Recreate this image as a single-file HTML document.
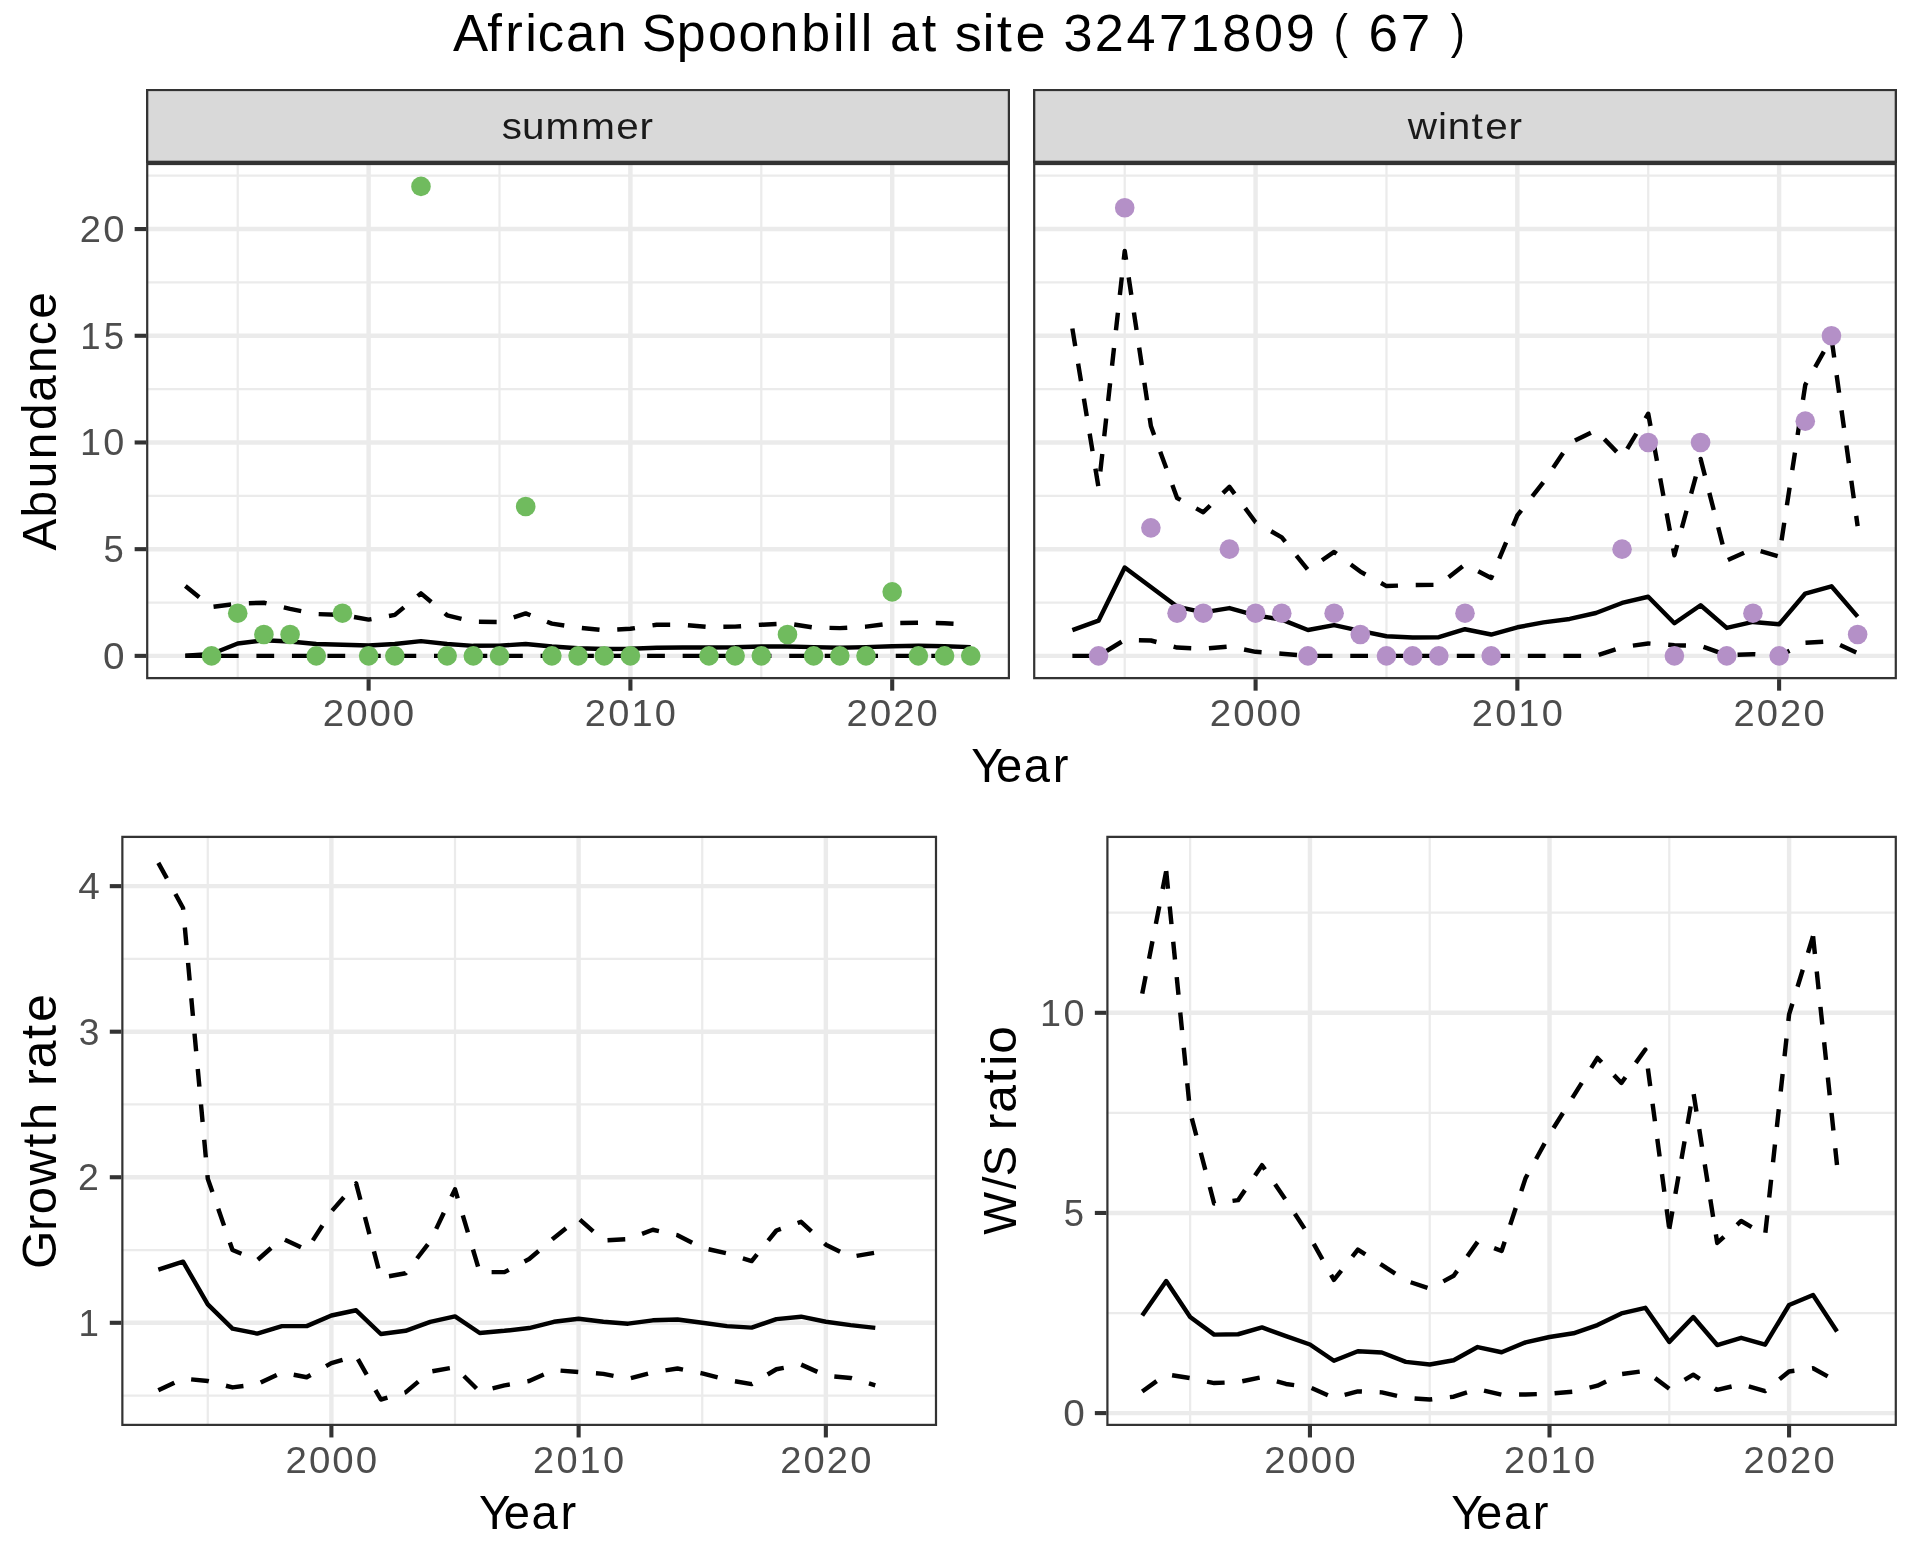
<!DOCTYPE html>
<html><head><meta charset="utf-8"><title>African Spoonbill at site 32471809</title>
<style>
html,body{margin:0;padding:0;background:#fff;}
body{width:1920px;height:1560px;overflow:hidden;}
svg{display:block;font-family:"Liberation Sans",sans-serif;will-change:transform;}
</style></head><body>
<svg width="1920" height="1560" viewBox="0 0 1920 1560">
<rect width="1920" height="1560" fill="#fff"/>
<text transform="translate(0,51) scale(1.0287,1)" x="440.32 473.73 491.06 510.55 522.77 550.15 580.49" font-size="51.26" fill="#000">African</text>
<text transform="translate(0,51) scale(1.0125,1)" x="633.95 668.45 699.25 729.46 760.08 791.43 822.66 836.36 850.08" font-size="51.26" fill="#000">Spoonbill</text>
<text transform="translate(0,51) scale(0.9787,1)" x="909.40 941.78" font-size="53.26" fill="#000">at</text>
<text transform="translate(0,51) scale(1.0586,1)" x="901.94 928.10 941.66 959.39" font-size="51.26" fill="#000">site</text>
<text transform="translate(0,51) scale(1.0026,1)" x="1060.83 1091.91 1123.64 1155.90 1187.09 1218.98 1250.73 1282.54" font-size="52.05" fill="#000">32471809</text>
<text transform="translate(0,48) scale(0.8911,1)" x="1496.66" font-size="47.72" fill="#000">(</text>
<text transform="translate(0,51) scale(1.0184,1)" x="1343.77 1375.54" font-size="52.05" fill="#000">67</text>
<text transform="translate(0,48) scale(0.8911,1)" x="1627.97" font-size="47.72" fill="#000">)</text>
<clipPath id="c1"><rect x="146.10" y="162.90" width="863.90" height="516.30"/></clipPath>
<g clip-path="url(#c1)">
<rect x="146.10" y="162.90" width="863.90" height="516.30" fill="#fff"/>
<line x1="146.10" x2="1010.00" y1="602.52" y2="602.52" stroke="#EBEBEB" stroke-width="2.22"/>
<line x1="146.10" x2="1010.00" y1="495.82" y2="495.82" stroke="#EBEBEB" stroke-width="2.22"/>
<line x1="146.10" x2="1010.00" y1="389.12" y2="389.12" stroke="#EBEBEB" stroke-width="2.22"/>
<line x1="146.10" x2="1010.00" y1="282.42" y2="282.42" stroke="#EBEBEB" stroke-width="2.22"/>
<line x1="146.10" x2="1010.00" y1="175.72" y2="175.72" stroke="#EBEBEB" stroke-width="2.22"/>
<line y1="162.90" y2="679.20" x1="237.73" x2="237.73" stroke="#EBEBEB" stroke-width="2.22"/>
<line y1="162.90" y2="679.20" x1="499.51" x2="499.51" stroke="#EBEBEB" stroke-width="2.22"/>
<line y1="162.90" y2="679.20" x1="761.30" x2="761.30" stroke="#EBEBEB" stroke-width="2.22"/>
<line x1="146.10" x2="1010.00" y1="655.87" y2="655.87" stroke="#EBEBEB" stroke-width="4.44"/>
<line x1="146.10" x2="1010.00" y1="549.17" y2="549.17" stroke="#EBEBEB" stroke-width="4.44"/>
<line x1="146.10" x2="1010.00" y1="442.47" y2="442.47" stroke="#EBEBEB" stroke-width="4.44"/>
<line x1="146.10" x2="1010.00" y1="335.77" y2="335.77" stroke="#EBEBEB" stroke-width="4.44"/>
<line x1="146.10" x2="1010.00" y1="229.07" y2="229.07" stroke="#EBEBEB" stroke-width="4.44"/>
<line y1="162.90" y2="679.20" x1="368.62" x2="368.62" stroke="#EBEBEB" stroke-width="4.44"/>
<line y1="162.90" y2="679.20" x1="630.41" x2="630.41" stroke="#EBEBEB" stroke-width="4.44"/>
<line y1="162.90" y2="679.20" x1="892.20" x2="892.20" stroke="#EBEBEB" stroke-width="4.44"/>
<polyline points="185.37,655.87 211.55,655.87 237.73,655.87 263.90,655.87 290.08,655.87 316.26,655.87 342.44,655.87 368.62,655.87 394.80,655.87 420.98,655.87 447.16,655.87 473.33,655.87 499.51,655.87 525.69,655.87 551.87,655.87 578.05,655.87 604.23,655.87 630.41,655.87 656.59,655.87 682.77,655.87 708.94,655.87 735.12,655.87 761.30,655.87 787.48,655.87 813.66,655.87 839.84,655.87 866.02,655.87 892.20,655.87 918.37,655.87 944.55,655.87 970.73,655.87" fill="none" stroke="#000" stroke-width="4.44" stroke-linejoin="round" stroke-dasharray="17.76 17.76"/>
<polyline points="185.37,586.09 211.55,607.00 237.73,603.59 263.90,602.73 290.08,608.92 316.26,614.04 342.44,614.90 368.62,619.59 394.80,614.90 420.98,593.34 447.16,615.32 473.33,621.73 499.51,621.94 525.69,613.40 551.87,623.65 578.05,627.70 604.23,630.26 630.41,628.77 656.59,624.71 682.77,624.71 708.94,627.06 735.12,626.63 761.30,624.71 787.48,623.43 813.66,627.49 839.84,628.13 866.02,626.63 892.20,623.22 918.37,622.79 944.55,623.22 970.73,624.71" fill="none" stroke="#000" stroke-width="4.44" stroke-linejoin="round" stroke-dasharray="17.76 17.76"/>
<polyline points="185.37,655.66 211.55,653.95 237.73,643.49 263.90,640.29 290.08,641.57 316.26,643.92 342.44,644.77 368.62,645.41 394.80,643.92 420.98,641.15 447.16,643.92 473.33,645.84 499.51,645.63 525.69,644.03 551.87,646.48 578.05,648.19 604.23,649.04 630.41,648.83 656.59,647.76 682.77,647.55 708.94,647.55 735.12,647.33 761.30,646.48 787.48,646.48 813.66,647.12 839.84,647.76 866.02,647.12 892.20,646.27 918.37,645.84 944.55,646.27 970.73,647.12" fill="none" stroke="#000" stroke-width="4.44" stroke-linejoin="round"/>
<circle cx="211.55" cy="655.87" r="9.8" fill="#70BB5E"/>
<circle cx="237.73" cy="613.19" r="9.8" fill="#70BB5E"/>
<circle cx="263.90" cy="634.53" r="9.8" fill="#70BB5E"/>
<circle cx="290.08" cy="634.53" r="9.8" fill="#70BB5E"/>
<circle cx="316.26" cy="655.87" r="9.8" fill="#70BB5E"/>
<circle cx="342.44" cy="613.19" r="9.8" fill="#70BB5E"/>
<circle cx="368.62" cy="655.87" r="9.8" fill="#70BB5E"/>
<circle cx="394.80" cy="655.87" r="9.8" fill="#70BB5E"/>
<circle cx="420.98" cy="186.39" r="9.8" fill="#70BB5E"/>
<circle cx="447.16" cy="655.87" r="9.8" fill="#70BB5E"/>
<circle cx="473.33" cy="655.87" r="9.8" fill="#70BB5E"/>
<circle cx="499.51" cy="655.87" r="9.8" fill="#70BB5E"/>
<circle cx="525.69" cy="506.49" r="9.8" fill="#70BB5E"/>
<circle cx="551.87" cy="655.87" r="9.8" fill="#70BB5E"/>
<circle cx="578.05" cy="655.87" r="9.8" fill="#70BB5E"/>
<circle cx="604.23" cy="655.87" r="9.8" fill="#70BB5E"/>
<circle cx="630.41" cy="655.87" r="9.8" fill="#70BB5E"/>
<circle cx="708.94" cy="655.87" r="9.8" fill="#70BB5E"/>
<circle cx="735.12" cy="655.87" r="9.8" fill="#70BB5E"/>
<circle cx="761.30" cy="655.87" r="9.8" fill="#70BB5E"/>
<circle cx="787.48" cy="634.53" r="9.8" fill="#70BB5E"/>
<circle cx="813.66" cy="655.87" r="9.8" fill="#70BB5E"/>
<circle cx="839.84" cy="655.87" r="9.8" fill="#70BB5E"/>
<circle cx="866.02" cy="655.87" r="9.8" fill="#70BB5E"/>
<circle cx="892.20" cy="591.85" r="9.8" fill="#70BB5E"/>
<circle cx="918.37" cy="655.87" r="9.8" fill="#70BB5E"/>
<circle cx="944.55" cy="655.87" r="9.8" fill="#70BB5E"/>
<circle cx="970.73" cy="655.87" r="9.8" fill="#70BB5E"/>
<rect x="146.10" y="162.90" width="863.90" height="516.30" fill="none" stroke="#333333" stroke-width="4.44"/>
</g>
<line x1="368.62" x2="368.62" y1="679.20" y2="690.66" stroke="#333333" stroke-width="4.10"/>
<text transform="translate(0,726) scale(1.0488,1)" x="307.82 330.15 352.37 374.59" font-size="36.64" fill="#4D4D4D">2000</text>
<line x1="630.41" x2="630.41" y1="679.20" y2="690.66" stroke="#333333" stroke-width="4.10"/>
<text transform="translate(0,726) scale(1.0352,1)" x="564.91 587.53 609.92 632.55" font-size="36.64" fill="#4D4D4D">2010</text>
<line x1="892.20" x2="892.20" y1="679.20" y2="690.66" stroke="#333333" stroke-width="4.10"/>
<text transform="translate(0,726) scale(1.0403,1)" x="813.73 836.24 858.53 881.04" font-size="36.64" fill="#4D4D4D">2020</text>
<line y1="655.87" y2="655.87" x1="134.64" x2="146.10" stroke="#333333" stroke-width="4.10"/>
<text transform="translate(0,669) scale(1.0571,1)" x="97.52" font-size="36.64" fill="#4D4D4D">0</text>
<line y1="549.17" y2="549.17" x1="134.64" x2="146.10" stroke="#333333" stroke-width="4.10"/>
<text transform="translate(0,562) scale(0.9928,1)" x="104.30" font-size="36.67" fill="#4D4D4D">5</text>
<line y1="442.47" y2="442.47" x1="134.64" x2="146.10" stroke="#333333" stroke-width="4.10"/>
<text transform="translate(0,455) scale(1.0300,1)" x="77.57 100.31" font-size="36.64" fill="#4D4D4D">10</text>
<line y1="335.77" y2="335.77" x1="134.64" x2="146.10" stroke="#333333" stroke-width="4.10"/>
<text transform="translate(0,349) scale(0.9962,1)" x="80.54 104.09" font-size="36.67" fill="#4D4D4D">15</text>
<line y1="229.07" y2="229.07" x1="134.64" x2="146.10" stroke="#333333" stroke-width="4.10"/>
<text transform="translate(0,242) scale(1.0403,1)" x="76.70 99.21" font-size="36.64" fill="#4D4D4D">20</text>
<clipPath id="c2"><rect x="146.10" y="88.90" width="863.90" height="74.00"/></clipPath>
<rect clip-path="url(#c2)" x="146.10" y="88.90" width="863.90" height="74.00" fill="#D9D9D9" stroke="#333333" stroke-width="4.44"/>
<text transform="translate(0,139) scale(1.1129,1)" x="450.84 469.00 490.25 522.31 553.79 574.65" font-size="36.35" fill="#1A1A1A">summer</text>
<clipPath id="c3"><rect x="1033.10" y="162.90" width="863.80" height="516.30"/></clipPath>
<g clip-path="url(#c3)">
<rect x="1033.10" y="162.90" width="863.80" height="516.30" fill="#fff"/>
<line x1="1033.10" x2="1896.90" y1="602.52" y2="602.52" stroke="#EBEBEB" stroke-width="2.22"/>
<line x1="1033.10" x2="1896.90" y1="495.82" y2="495.82" stroke="#EBEBEB" stroke-width="2.22"/>
<line x1="1033.10" x2="1896.90" y1="389.12" y2="389.12" stroke="#EBEBEB" stroke-width="2.22"/>
<line x1="1033.10" x2="1896.90" y1="282.42" y2="282.42" stroke="#EBEBEB" stroke-width="2.22"/>
<line x1="1033.10" x2="1896.90" y1="175.72" y2="175.72" stroke="#EBEBEB" stroke-width="2.22"/>
<line y1="162.90" y2="679.20" x1="1124.72" x2="1124.72" stroke="#EBEBEB" stroke-width="2.22"/>
<line y1="162.90" y2="679.20" x1="1386.47" x2="1386.47" stroke="#EBEBEB" stroke-width="2.22"/>
<line y1="162.90" y2="679.20" x1="1648.23" x2="1648.23" stroke="#EBEBEB" stroke-width="2.22"/>
<line x1="1033.10" x2="1896.90" y1="655.87" y2="655.87" stroke="#EBEBEB" stroke-width="4.44"/>
<line x1="1033.10" x2="1896.90" y1="549.17" y2="549.17" stroke="#EBEBEB" stroke-width="4.44"/>
<line x1="1033.10" x2="1896.90" y1="442.47" y2="442.47" stroke="#EBEBEB" stroke-width="4.44"/>
<line x1="1033.10" x2="1896.90" y1="335.77" y2="335.77" stroke="#EBEBEB" stroke-width="4.44"/>
<line x1="1033.10" x2="1896.90" y1="229.07" y2="229.07" stroke="#EBEBEB" stroke-width="4.44"/>
<line y1="162.90" y2="679.20" x1="1255.59" x2="1255.59" stroke="#EBEBEB" stroke-width="4.44"/>
<line y1="162.90" y2="679.20" x1="1517.35" x2="1517.35" stroke="#EBEBEB" stroke-width="4.44"/>
<line y1="162.90" y2="679.20" x1="1779.11" x2="1779.11" stroke="#EBEBEB" stroke-width="4.44"/>
<polyline points="1072.36,655.87 1098.54,655.87 1124.72,639.87 1150.89,640.51 1177.07,647.55 1203.24,648.83 1229.42,646.48 1255.59,651.82 1281.77,653.74 1307.95,655.87 1334.12,655.87 1360.30,655.87 1386.47,655.87 1412.65,655.87 1438.82,655.87 1465.00,655.87 1491.18,655.87 1517.35,655.87 1543.53,655.87 1569.70,655.87 1595.88,655.87 1622.05,647.12 1648.23,643.49 1674.41,645.20 1700.58,645.84 1726.76,655.23 1752.93,654.16 1779.11,655.87 1805.28,642.85 1831.46,641.15 1857.64,653.10" fill="none" stroke="#000" stroke-width="4.44" stroke-linejoin="round" stroke-dasharray="17.76 17.76"/>
<polyline points="1072.36,328.51 1098.54,487.71 1124.72,250.94 1150.89,426.04 1177.07,497.95 1203.24,512.25 1229.42,486.86 1255.59,522.28 1281.77,537.43 1307.95,569.87 1334.12,551.94 1360.30,571.58 1386.47,586.09 1412.65,585.02 1438.82,584.81 1465.00,564.53 1491.18,577.98 1517.35,515.45 1543.53,482.16 1569.70,443.11 1595.88,430.31 1622.05,457.41 1648.23,413.75 1674.41,555.27 1700.58,458.90 1726.76,560.48 1752.93,548.74 1779.11,556.43 1805.28,384.85 1831.46,337.90 1857.64,526.12" fill="none" stroke="#000" stroke-width="4.44" stroke-linejoin="round" stroke-dasharray="17.76 17.76"/>
<polyline points="1072.36,630.05 1098.54,620.66 1124.72,567.52 1150.89,586.94 1177.07,606.57 1203.24,612.34 1229.42,608.07 1255.59,615.32 1281.77,619.59 1307.95,630.05 1334.12,625.14 1360.30,630.90 1386.47,636.24 1412.65,637.52 1438.82,637.20 1465.00,629.20 1491.18,634.53 1517.35,627.27 1543.53,622.37 1569.70,618.95 1595.88,612.98 1622.05,602.95 1648.23,596.76 1674.41,623.22 1700.58,605.29 1726.76,627.91 1752.93,621.94 1779.11,624.29 1805.28,593.56 1831.46,586.30 1857.64,616.60" fill="none" stroke="#000" stroke-width="4.44" stroke-linejoin="round"/>
<circle cx="1098.54" cy="655.87" r="9.8" fill="#B490C7"/>
<circle cx="1124.72" cy="207.73" r="9.8" fill="#B490C7"/>
<circle cx="1150.89" cy="527.83" r="9.8" fill="#B490C7"/>
<circle cx="1177.07" cy="613.19" r="9.8" fill="#B490C7"/>
<circle cx="1203.24" cy="613.19" r="9.8" fill="#B490C7"/>
<circle cx="1229.42" cy="549.17" r="9.8" fill="#B490C7"/>
<circle cx="1255.59" cy="613.19" r="9.8" fill="#B490C7"/>
<circle cx="1281.77" cy="613.19" r="9.8" fill="#B490C7"/>
<circle cx="1307.95" cy="655.87" r="9.8" fill="#B490C7"/>
<circle cx="1334.12" cy="613.19" r="9.8" fill="#B490C7"/>
<circle cx="1360.30" cy="634.53" r="9.8" fill="#B490C7"/>
<circle cx="1386.47" cy="655.87" r="9.8" fill="#B490C7"/>
<circle cx="1412.65" cy="655.87" r="9.8" fill="#B490C7"/>
<circle cx="1438.82" cy="655.87" r="9.8" fill="#B490C7"/>
<circle cx="1465.00" cy="613.19" r="9.8" fill="#B490C7"/>
<circle cx="1491.18" cy="655.87" r="9.8" fill="#B490C7"/>
<circle cx="1622.05" cy="549.17" r="9.8" fill="#B490C7"/>
<circle cx="1648.23" cy="442.47" r="9.8" fill="#B490C7"/>
<circle cx="1674.41" cy="655.87" r="9.8" fill="#B490C7"/>
<circle cx="1700.58" cy="442.47" r="9.8" fill="#B490C7"/>
<circle cx="1726.76" cy="655.87" r="9.8" fill="#B490C7"/>
<circle cx="1752.93" cy="613.19" r="9.8" fill="#B490C7"/>
<circle cx="1779.11" cy="655.87" r="9.8" fill="#B490C7"/>
<circle cx="1805.28" cy="421.13" r="9.8" fill="#B490C7"/>
<circle cx="1831.46" cy="335.77" r="9.8" fill="#B490C7"/>
<circle cx="1857.64" cy="634.53" r="9.8" fill="#B490C7"/>
<rect x="1033.10" y="162.90" width="863.80" height="516.30" fill="none" stroke="#333333" stroke-width="4.44"/>
</g>
<line x1="1255.59" x2="1255.59" y1="679.20" y2="690.66" stroke="#333333" stroke-width="4.10"/>
<text transform="translate(0,726) scale(1.0488,1)" x="1153.51 1175.84 1198.06 1220.27" font-size="36.64" fill="#4D4D4D">2000</text>
<line x1="1517.35" x2="1517.35" y1="679.20" y2="690.66" stroke="#333333" stroke-width="4.10"/>
<text transform="translate(0,726) scale(1.0352,1)" x="1421.70 1444.33 1466.72 1489.35" font-size="36.64" fill="#4D4D4D">2010</text>
<line x1="1779.11" x2="1779.11" y1="679.20" y2="690.66" stroke="#333333" stroke-width="4.10"/>
<text transform="translate(0,726) scale(1.0403,1)" x="1666.29 1688.80 1711.09 1733.60" font-size="36.64" fill="#4D4D4D">2020</text>
<clipPath id="c4"><rect x="1033.10" y="88.90" width="863.80" height="74.00"/></clipPath>
<rect clip-path="url(#c4)" x="1033.10" y="88.90" width="863.80" height="74.00" fill="#D9D9D9" stroke="#333333" stroke-width="4.44"/>
<text transform="translate(0,139) scale(1.0997,1)" x="1280.10 1307.56 1316.47 1338.20 1350.62 1371.74" font-size="36.84" fill="#1A1A1A">winter</text>
<clipPath id="c5"><rect x="121.25" y="835.80" width="815.85" height="590.20"/></clipPath>
<g clip-path="url(#c5)">
<rect x="121.25" y="835.80" width="815.85" height="590.20" fill="#fff"/>
<line x1="121.25" x2="937.10" y1="1395.58" y2="1395.58" stroke="#EBEBEB" stroke-width="2.22"/>
<line x1="121.25" x2="937.10" y1="1250.03" y2="1250.03" stroke="#EBEBEB" stroke-width="2.22"/>
<line x1="121.25" x2="937.10" y1="1104.47" y2="1104.47" stroke="#EBEBEB" stroke-width="2.22"/>
<line x1="121.25" x2="937.10" y1="958.92" y2="958.92" stroke="#EBEBEB" stroke-width="2.22"/>
<line y1="835.80" y2="1426.00" x1="207.78" x2="207.78" stroke="#EBEBEB" stroke-width="2.22"/>
<line y1="835.80" y2="1426.00" x1="455.01" x2="455.01" stroke="#EBEBEB" stroke-width="2.22"/>
<line y1="835.80" y2="1426.00" x1="702.23" x2="702.23" stroke="#EBEBEB" stroke-width="2.22"/>
<line x1="121.25" x2="937.10" y1="1322.80" y2="1322.80" stroke="#EBEBEB" stroke-width="4.44"/>
<line x1="121.25" x2="937.10" y1="1177.25" y2="1177.25" stroke="#EBEBEB" stroke-width="4.44"/>
<line x1="121.25" x2="937.10" y1="1031.70" y2="1031.70" stroke="#EBEBEB" stroke-width="4.44"/>
<line x1="121.25" x2="937.10" y1="886.15" y2="886.15" stroke="#EBEBEB" stroke-width="4.44"/>
<line y1="835.80" y2="1426.00" x1="331.39" x2="331.39" stroke="#EBEBEB" stroke-width="4.44"/>
<line y1="835.80" y2="1426.00" x1="578.62" x2="578.62" stroke="#EBEBEB" stroke-width="4.44"/>
<line y1="835.80" y2="1426.00" x1="825.85" x2="825.85" stroke="#EBEBEB" stroke-width="4.44"/>
<polyline points="158.33,1390.34 183.06,1378.55 207.78,1381.02 232.50,1387.42 257.23,1384.22 281.95,1372.43 306.67,1377.24 331.39,1363.12 356.12,1355.99 380.84,1399.50 405.56,1392.37 430.28,1371.56 455.01,1367.19 479.73,1391.65 504.45,1385.39 529.17,1381.02 553.90,1370.10 578.62,1372.00 603.34,1373.89 628.07,1378.84 652.79,1372.29 677.51,1368.50 702.23,1373.31 726.96,1379.86 751.68,1384.08 776.40,1369.23 801.12,1364.57 825.85,1375.63 850.57,1377.96 875.29,1385.39" fill="none" stroke="#000" stroke-width="4.44" stroke-linejoin="round" stroke-dasharray="17.76 17.76"/>
<polyline points="158.33,862.86 183.06,907.98 207.78,1178.71 232.50,1250.03 257.23,1260.21 281.95,1238.38 306.67,1250.03 331.39,1211.45 356.12,1183.36 380.84,1277.68 405.56,1273.31 430.28,1241.29 455.01,1189.33 479.73,1272.15 504.45,1272.15 529.17,1259.05 553.90,1237.94 578.62,1218.44 603.34,1240.42 628.07,1239.11 652.79,1229.79 677.51,1235.18 702.23,1247.84 726.96,1253.37 751.68,1261.09 776.40,1230.52 801.12,1221.79 825.85,1244.64 850.57,1256.87 875.29,1252.64" fill="none" stroke="#000" stroke-width="4.44" stroke-linejoin="round" stroke-dasharray="17.76 17.76"/>
<polyline points="158.33,1269.53 183.06,1261.67 207.78,1304.46 232.50,1328.62 257.23,1333.57 281.95,1326.15 306.67,1326.15 331.39,1315.52 356.12,1310.28 380.84,1334.01 405.56,1330.81 430.28,1321.93 455.01,1316.40 479.73,1332.99 504.45,1330.81 529.17,1328.04 553.90,1321.78 578.62,1318.72 603.34,1321.78 628.07,1323.67 652.79,1320.33 677.51,1319.45 702.23,1322.80 726.96,1326.15 751.68,1327.60 776.40,1319.16 801.12,1316.69 825.85,1321.78 850.57,1325.13 875.29,1327.89" fill="none" stroke="#000" stroke-width="4.44" stroke-linejoin="round"/>
<rect x="121.25" y="835.80" width="815.85" height="590.20" fill="none" stroke="#333333" stroke-width="4.44"/>
</g>
<line x1="331.39" x2="331.39" y1="1426.00" y2="1437.46" stroke="#333333" stroke-width="4.10"/>
<text transform="translate(0,1473) scale(1.0488,1)" x="272.33 294.66 316.88 339.10" font-size="36.64" fill="#4D4D4D">2000</text>
<line x1="578.62" x2="578.62" y1="1426.00" y2="1437.46" stroke="#333333" stroke-width="4.10"/>
<text transform="translate(0,1473) scale(1.0352,1)" x="514.88 537.50 559.89 582.52" font-size="36.64" fill="#4D4D4D">2010</text>
<line x1="825.85" x2="825.85" y1="1426.00" y2="1437.46" stroke="#333333" stroke-width="4.10"/>
<text transform="translate(0,1473) scale(1.0403,1)" x="749.95 772.46 794.75 817.26" font-size="36.64" fill="#4D4D4D">2020</text>
<line y1="1322.80" y2="1322.80" x1="109.79" x2="121.25" stroke="#333333" stroke-width="4.10"/>
<text transform="translate(0,1336) scale(1.0000,1)" x="78.57" font-size="36.71" fill="#4D4D4D">1</text>
<line y1="1177.25" y2="1177.25" x1="109.79" x2="121.25" stroke="#333333" stroke-width="4.10"/>
<text transform="translate(0,1190) scale(1.0226,1)" x="76.30" font-size="36.68" fill="#4D4D4D">2</text>
<line y1="1031.70" y2="1031.70" x1="109.79" x2="121.25" stroke="#333333" stroke-width="4.10"/>
<text transform="translate(0,1045) scale(1.0144,1)" x="77.56" font-size="36.64" fill="#4D4D4D">3</text>
<line y1="886.15" y2="886.15" x1="109.79" x2="121.25" stroke="#333333" stroke-width="4.10"/>
<text transform="translate(0,899) scale(1.0541,1)" x="74.14" font-size="36.71" fill="#4D4D4D">4</text>
<clipPath id="c6"><rect x="1106.30" y="835.80" width="790.60" height="590.20"/></clipPath>
<g clip-path="url(#c6)">
<rect x="1106.30" y="835.80" width="790.60" height="590.20" fill="#fff"/>
<line x1="1106.30" x2="1896.90" y1="1313.02" y2="1313.02" stroke="#EBEBEB" stroke-width="2.22"/>
<line x1="1106.30" x2="1896.90" y1="1112.88" y2="1112.88" stroke="#EBEBEB" stroke-width="2.22"/>
<line x1="1106.30" x2="1896.90" y1="912.72" y2="912.72" stroke="#EBEBEB" stroke-width="2.22"/>
<line y1="835.80" y2="1426.00" x1="1190.15" x2="1190.15" stroke="#EBEBEB" stroke-width="2.22"/>
<line y1="835.80" y2="1426.00" x1="1429.73" x2="1429.73" stroke="#EBEBEB" stroke-width="2.22"/>
<line y1="835.80" y2="1426.00" x1="1669.30" x2="1669.30" stroke="#EBEBEB" stroke-width="2.22"/>
<line x1="1106.30" x2="1896.90" y1="1413.10" y2="1413.10" stroke="#EBEBEB" stroke-width="4.44"/>
<line x1="1106.30" x2="1896.90" y1="1212.95" y2="1212.95" stroke="#EBEBEB" stroke-width="4.44"/>
<line x1="1106.30" x2="1896.90" y1="1012.80" y2="1012.80" stroke="#EBEBEB" stroke-width="4.44"/>
<line y1="835.80" y2="1426.00" x1="1309.94" x2="1309.94" stroke="#EBEBEB" stroke-width="4.44"/>
<line y1="835.80" y2="1426.00" x1="1549.52" x2="1549.52" stroke="#EBEBEB" stroke-width="4.44"/>
<line y1="835.80" y2="1426.00" x1="1789.09" x2="1789.09" stroke="#EBEBEB" stroke-width="4.44"/>
<polyline points="1142.24,1391.56 1166.19,1374.27 1190.15,1378.07 1214.11,1383.08 1238.07,1382.08 1262.02,1377.19 1285.98,1383.96 1309.94,1387.36 1333.90,1397.89 1357.85,1391.36 1381.81,1392.40 1405.77,1397.89 1429.73,1399.57 1453.68,1396.69 1477.64,1389.08 1501.60,1394.69 1525.56,1394.53 1549.52,1393.69 1573.47,1391.56 1597.43,1385.64 1621.39,1374.03 1645.35,1370.87 1669.30,1388.80 1693.26,1374.67 1717.22,1389.88 1741.18,1384.28 1765.13,1391.08 1789.09,1371.47 1813.05,1368.27 1837.01,1381.48" fill="none" stroke="#000" stroke-width="4.44" stroke-linejoin="round" stroke-dasharray="17.76 17.76"/>
<polyline points="1142.24,993.59 1166.19,871.09" fill="none" stroke="#000" stroke-width="4.44" stroke-linejoin="round" stroke-dasharray="17.76 17.76"/>
<polyline points="1166.19,871.09 1190.15,1112.07 1214.11,1203.44 1238.07,1200.14 1262.02,1165.21 1285.98,1200.14 1309.94,1236.97 1333.90,1279.90 1357.85,1249.68 1381.81,1264.99 1405.77,1280.60 1429.73,1288.61 1453.68,1275.80 1477.64,1241.77 1501.60,1250.98 1525.56,1178.12 1549.52,1134.49 1573.47,1096.06 1597.43,1057.93 1621.39,1082.95 1645.35,1049.53 1669.30,1228.96" fill="none" stroke="#000" stroke-width="4.44" stroke-linejoin="round" stroke-dasharray="17.76 17.76"/>
<polyline points="1669.30,1228.96 1693.26,1091.56 1717.22,1242.97 1741.18,1220.96 1765.13,1234.97 1789.09,1014.40 1813.05,936.24" fill="none" stroke="#000" stroke-width="4.44" stroke-linejoin="round" stroke-dasharray="17.76 17.76"/>
<polyline points="1813.05,936.24 1837.01,1164.91" fill="none" stroke="#000" stroke-width="4.44" stroke-linejoin="round" stroke-dasharray="17.76 17.76"/>
<polyline points="1142.24,1315.43 1166.19,1281.00 1190.15,1317.03 1214.11,1334.64 1238.07,1334.24 1262.02,1327.44 1285.98,1336.04 1309.94,1344.49 1333.90,1360.74 1357.85,1351.25 1381.81,1352.49 1405.77,1361.86 1429.73,1364.54 1453.68,1360.26 1477.64,1347.05 1501.60,1352.25 1525.56,1342.37 1549.52,1337.04 1573.47,1333.28 1597.43,1325.03 1621.39,1313.43 1645.35,1307.82 1669.30,1341.85 1693.26,1317.03 1717.22,1345.05 1741.18,1337.84 1765.13,1344.65 1789.09,1305.02 1813.05,1295.01 1837.01,1331.44" fill="none" stroke="#000" stroke-width="4.44" stroke-linejoin="round"/>
<rect x="1106.30" y="835.80" width="790.60" height="590.20" fill="none" stroke="#333333" stroke-width="4.44"/>
</g>
<line x1="1309.94" x2="1309.94" y1="1426.00" y2="1437.46" stroke="#333333" stroke-width="4.10"/>
<text transform="translate(0,1473) scale(1.0488,1)" x="1205.32 1227.65 1249.87 1272.09" font-size="36.64" fill="#4D4D4D">2000</text>
<line x1="1549.52" x2="1549.52" y1="1426.00" y2="1437.46" stroke="#333333" stroke-width="4.10"/>
<text transform="translate(0,1473) scale(1.0352,1)" x="1452.77 1475.40 1497.79 1520.42" font-size="36.64" fill="#4D4D4D">2010</text>
<line x1="1789.09" x2="1789.09" y1="1426.00" y2="1437.46" stroke="#333333" stroke-width="4.10"/>
<text transform="translate(0,1473) scale(1.0403,1)" x="1675.89 1698.40 1720.69 1743.20" font-size="36.64" fill="#4D4D4D">2020</text>
<line y1="1413.10" y2="1413.10" x1="1094.84" x2="1106.30" stroke="#333333" stroke-width="4.10"/>
<text transform="translate(0,1426) scale(1.0571,1)" x="1005.81" font-size="36.64" fill="#4D4D4D">0</text>
<line y1="1212.95" y2="1212.95" x1="1094.84" x2="1106.30" stroke="#333333" stroke-width="4.10"/>
<text transform="translate(0,1226) scale(0.9928,1)" x="1071.46" font-size="36.67" fill="#4D4D4D">5</text>
<line y1="1012.80" y2="1012.80" x1="1094.84" x2="1106.30" stroke="#333333" stroke-width="4.10"/>
<text transform="translate(0,1026) scale(1.0300,1)" x="1009.83 1032.58" font-size="36.64" fill="#4D4D4D">10</text>
<text transform="translate(0,782) scale(0.9681,1)" x="1003.18 1028.85 1057.56 1087.49" font-size="48.74" fill="#000">Year</text>
<text transform="translate(0,1529) scale(0.9681,1)" x="494.68 520.36 549.06 578.99" font-size="48.74" fill="#000">Year</text>
<text transform="translate(0,1529) scale(0.9681,1)" x="1499.08 1524.75 1553.46 1583.38" font-size="48.74" fill="#000">Year</text>
<text transform="translate(56.15,0) rotate(-90) scale(0.9933,1)" x="-554.09 -520.99 -491.49 -462.47 -432.95 -404.40 -375.58 -347.48 -320.98" font-size="48.07" fill="#000">Abundance</text>
<text transform="translate(56.15,0) rotate(-90) scale(1.0262,1)" x="-1236.72 -1199.55 -1183.17 -1155.17 -1118.22 -1101.36" font-size="48.07" fill="#000">Growth</text>
<text transform="translate(56.15,0) rotate(-90) scale(1.0101,1)" x="-1075.15 -1057.81 -1028.62 -1011.66" font-size="49.89" fill="#000">rate</text>
<text transform="translate(1016.15,0) rotate(-90) scale(0.9702,1)" x="-1272.80 -1225.87 -1212.33" font-size="46.86" fill="#000">W/S</text>
<text transform="translate(1016.15,0) rotate(-90) scale(1.0362,1)" x="-1090.84 -1073.86 -1045.48 -1028.55 -1016.91" font-size="48.07" fill="#000">ratio</text>
</svg>
</body></html>
